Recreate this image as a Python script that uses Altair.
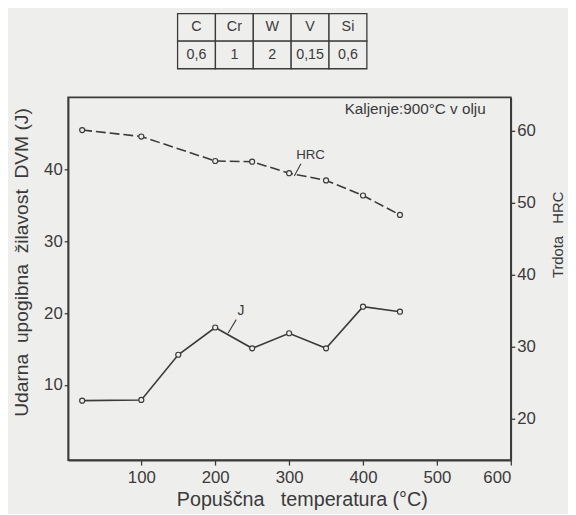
import altair as alt
import pandas as pd

# ---- data ----
temps_hrc = [20, 100, 200, 250, 300, 350, 400, 450]
hrc = [60.1, 59.2, 55.8, 55.7, 54.1, 53.1, 51.0, 48.3]
temps_j = [20, 100, 150, 200, 250, 300, 350, 400, 450]
j_vals = [7.8, 7.9, 14.2, 18.0, 15.1, 17.2, 15.1, 20.9, 20.2]

elements = ["C", "Cr", "W", "V", "Si"]
contents = ["0,6", "1", "2", "0,15", "0,6"]

x_ticks = [100, 200, 300, 400, 500, 600]
yl_ticks = [10, 20, 30, 40]
yr_ticks = [20, 30, 40, 50, 60]

G = "\u00a0 "
x_title = "Popuščna\u00a0\u00a0 temperatura (°C)"
yl_title = "Udarna" + G + "upogibna" + G + "žilavost" + G + "DVM (J)"
yr_title = "Trdota\u00a0\u00a0 HRC"
note = "Kaljenje:900°C v olju"

# ---- styling ----
DARK = "#3a3a3a"
BG = "#eeeeec"
FONT = "Liberation Sans"
X_DOM = [1, 600]
YL_DOM = [-0.5, 50.1]
YR_DOM = [14.2, 64.65]
W, H = 449, 368

df_hrc = pd.DataFrame({"t": temps_hrc, "hrc": hrc})
df_j = pd.DataFrame({"t": temps_j, "j": j_vals})

rows = []
for e, c in zip(elements, contents):
    rows.append({"el": e, "row": "h", "txt": e})
    rows.append({"el": e, "row": "v", "txt": c})
df_tab = pd.DataFrame(rows)

df_hrc_lbl = pd.DataFrame({"t": [329], "v": [56.6], "txt": ["HRC"]})
df_hrc_lead = pd.DataFrame({"t": [307], "v": [53.7], "t2": [316], "v2": [55.4]})
df_j_lbl = pd.DataFrame({"t": [235], "v": [20.25], "txt": ["J"]})
df_j_lead = pd.DataFrame({"t": [217.4], "v": [17.2], "t2": [228.4], "v2": [19.1]})
df_note = pd.DataFrame({"t": [566], "v": [48.5], "txt": [note]})


def xenc(field="t", axis=None):
    return alt.X(field, type="quantitative",
                 scale=alt.Scale(domain=X_DOM, nice=False, zero=False), axis=axis)


def yl(field, axis=None):
    return alt.Y(field, type="quantitative",
                 scale=alt.Scale(domain=YL_DOM, nice=False, zero=False), axis=axis)


def yr(field, axis=None):
    return alt.Y(field, type="quantitative",
                 scale=alt.Scale(domain=YR_DOM, nice=False, zero=False), axis=axis)


x_axis = alt.Axis(values=x_ticks, title=x_title, grid=False, tickSize=5,
                  labelPadding=5, titleX=237, titleY=40, titleBaseline="middle",
                  titleAlign="center", titleFontSize=20)
yl_axis = alt.Axis(values=yl_ticks, title=yl_title, orient="left", grid=False,
                   tickSize=4, labelPadding=2, titleX=-47, titleY=167,
                   titleAngle=270, titleBaseline="middle", titleAlign="center",
                   titleFontSize=19.5)
yr_axis = alt.Axis(values=yr_ticks, title=yr_title, orient="right", grid=False,
                   tickSize=4, labelPadding=2, titleX=47, titleY=139,
                   titleAngle=270, titleBaseline="middle", titleAlign="center",
                   titleFontSize=15)

pt = alt.OverlayMarkDef(filled=True, fill=BG, stroke=DARK, strokeWidth=1.2, size=26)

hrc_line = alt.Chart(df_hrc).mark_line(
    color=DARK, strokeWidth=1.6, strokeDash=[10, 4], point=pt
).encode(x=xenc("t", x_axis), y=yr("hrc", yr_axis))

j_line = alt.Chart(df_j).mark_line(
    color=DARK, strokeWidth=1.6, point=pt
).encode(x=xenc("t"), y=yl("j", yl_axis))

hrc_text = alt.Chart(df_hrc_lbl).mark_text(
    font=FONT, fontSize=13.5, color=DARK, baseline="middle"
).encode(x=xenc("t"), y=yr("v"), text="txt:N")
hrc_lead = alt.Chart(df_hrc_lead).mark_rule(color=DARK, strokeWidth=1.1).encode(
    x=xenc("t"), y=yr("v"), x2="t2", y2="v2")
j_text = alt.Chart(df_j_lbl).mark_text(
    font=FONT, fontSize=14, color=DARK, baseline="middle"
).encode(x=xenc("t"), y=yl("v"), text="txt:N")
j_lead = alt.Chart(df_j_lead).mark_rule(color=DARK, strokeWidth=1.1).encode(
    x=xenc("t"), y=yl("v"), x2="t2", y2="v2")
note_text = alt.Chart(df_note).mark_text(
    font=FONT, fontSize=15.5, color=DARK, baseline="middle", align="right"
).encode(x=xenc("t"), y=yl("v"), text="txt:N")

tx = alt.X("el:N", sort=elements, axis=None,
           scale=alt.Scale(range=[111, 303], paddingInner=0, paddingOuter=0))
ty = alt.Y("row:N", sort=["h", "v"], axis=None,
           scale=alt.Scale(range=[-85, -29], paddingInner=0, paddingOuter=0))
tab_rect = alt.Chart(df_tab).mark_rect(
    fill=BG, stroke=DARK, strokeWidth=1.3
).encode(x=tx, y=ty)
tab_text = alt.Chart(df_tab).mark_text(
    font=FONT, fontSize=14.5, color=DARK, baseline="middle"
).encode(x=tx, y=ty, text="txt:N")

chart = alt.layer(
    hrc_line, j_line, hrc_lead, hrc_text, j_lead, j_text, note_text, tab_rect, tab_text
).resolve_scale(
    x="independent", y="independent"
).properties(
    width=W, height=H, background=BG,
    autosize=alt.AutoSizeParams(type="none"),
    padding={"left": 61, "top": 87, "right": 58, "bottom": 51},
).configure_view(
    stroke=DARK, strokeWidth=1.6
).configure_axis(
    domainColor=DARK, domainWidth=1.6, tickColor=DARK, tickWidth=1.3,
    labelFont=FONT, titleFont=FONT, labelFontSize=17, titleFontSize=17,
    labelColor=DARK, titleColor=DARK, titleFontWeight="normal",
)

chart.save("out.html", embed_options={"renderer": "svg", "actions": False})
